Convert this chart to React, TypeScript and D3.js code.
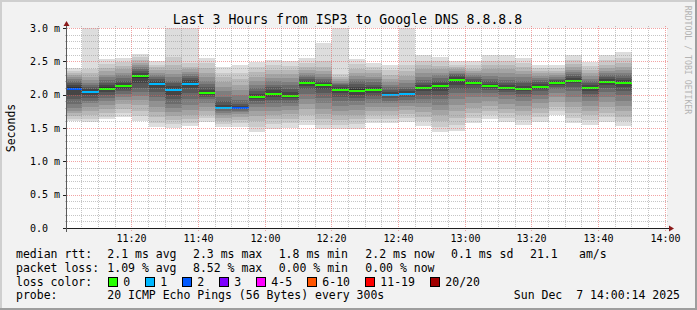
import React from 'react';
import * as d3 from 'd3';

// ---------- data ----------
const binStarts = [
  '11:00', '11:05', '11:10', '11:15', '11:20', '11:25', '11:30', '11:35', '11:40', '11:45',
  '11:50', '11:55', '12:00', '12:05', '12:10', '12:15', '12:20', '12:25', '12:30', '12:35',
  '12:40', '12:45', '12:50', '12:55', '13:00', '13:05', '13:10', '13:15', '13:20', '13:25',
  '13:30', '13:35', '13:40', '13:45',
];

const medianMs = [
  2.09, 2.04, 2.09, 2.135, 2.275, 2.165, 2.07, 2.165, 2.03, 1.805,
  1.80, 1.97, 2.015, 1.985, 2.18, 2.14, 2.075, 2.06, 2.075, 2.0,
  2.015, 2.1, 2.125, 2.22, 2.18, 2.125, 2.1, 2.09, 2.12, 2.175,
  2.21, 2.1, 2.19, 2.175,
];

const lostPings = [
  2, 1, 0, 0, 0, 1, 1, 1, 0, 1,
  2, 0, 0, 0, 0, 0, 0, 0, 0, 1,
  1, 0, 0, 0, 0, 0, 0, 0, 0, 0,
  0, 0, 0, 0,
];

// 20 sorted ping round-trip times per 5 minute step (ms)
const pingsMs = [
  [1.60, 1.64, 1.68, 1.72, 1.76, 1.80, 1.86, 1.93, 2.00, 2.07, 2.11, 2.14, 2.17, 2.20, 2.23, 2.26, 2.29, 2.32, 2.36, 2.40],
  [1.59, 1.63, 1.70, 1.76, 1.82, 1.87, 1.91, 1.95, 1.99, 2.02, 2.06, 2.09, 2.12, 2.15, 2.18, 2.22, 2.27, 2.33, 2.38, 3.15],
  [1.63, 1.67, 1.72, 1.78, 1.84, 1.90, 1.95, 2.00, 2.04, 2.07, 2.11, 2.14, 2.18, 2.22, 2.26, 2.30, 2.35, 2.40, 2.46, 2.53],
  [1.66, 1.72, 1.79, 1.86, 1.92, 1.97, 2.01, 2.05, 2.09, 2.12, 2.15, 2.18, 2.21, 2.25, 2.29, 2.33, 2.38, 2.43, 2.49, 2.55],
  [1.60, 1.68, 1.76, 1.84, 1.92, 1.98, 2.04, 2.10, 2.18, 2.25, 2.30, 2.33, 2.36, 2.39, 2.42, 2.45, 2.48, 2.52, 2.56, 2.61],
  [1.51, 1.58, 1.66, 1.74, 1.82, 1.90, 1.97, 2.04, 2.10, 2.15, 2.18, 2.21, 2.24, 2.27, 2.30, 2.33, 2.37, 2.41, 2.45, 2.50],
  [1.50, 1.56, 1.62, 1.68, 1.74, 1.80, 1.86, 1.93, 2.00, 2.05, 2.09, 2.13, 2.17, 2.21, 2.26, 2.31, 2.37, 2.45, 2.56, 3.15],
  [1.53, 1.58, 1.64, 1.70, 1.77, 1.85, 1.93, 2.02, 2.10, 2.15, 2.18, 2.22, 2.25, 2.28, 2.31, 2.34, 2.38, 2.42, 2.47, 3.15],
  [1.59, 1.65, 1.70, 1.76, 1.82, 1.88, 1.93, 1.97, 2.00, 2.02, 2.04, 2.07, 2.11, 2.16, 2.21, 2.27, 2.33, 2.40, 2.47, 2.55],
  [1.51, 1.56, 1.61, 1.65, 1.69, 1.72, 1.75, 1.78, 1.80, 1.80, 1.81, 1.84, 1.90, 1.97, 2.05, 2.12, 2.19, 2.26, 2.33, 2.41],
  [1.51, 1.57, 1.62, 1.67, 1.71, 1.74, 1.76, 1.78, 1.79, 1.80, 1.81, 1.83, 1.86, 1.92, 1.99, 2.07, 2.15, 2.24, 2.33, 2.44],
  [1.44, 1.52, 1.60, 1.68, 1.75, 1.81, 1.86, 1.90, 1.93, 1.96, 1.98, 2.01, 2.05, 2.10, 2.15, 2.21, 2.27, 2.34, 2.41, 2.49],
  [1.48, 1.56, 1.63, 1.70, 1.76, 1.82, 1.87, 1.92, 1.97, 2.00, 2.03, 2.07, 2.11, 2.15, 2.20, 2.25, 2.31, 2.37, 2.44, 2.52],
  [1.50, 1.57, 1.64, 1.71, 1.77, 1.83, 1.88, 1.92, 1.95, 1.97, 2.00, 2.04, 2.09, 2.14, 2.19, 2.25, 2.31, 2.37, 2.43, 2.50],
  [1.55, 1.62, 1.70, 1.78, 1.86, 1.94, 2.01, 2.08, 2.13, 2.17, 2.19, 2.21, 2.24, 2.27, 2.30, 2.33, 2.37, 2.42, 2.48, 2.55],
  [1.48, 1.55, 1.63, 1.71, 1.79, 1.87, 1.95, 2.03, 2.09, 2.13, 2.15, 2.18, 2.21, 2.24, 2.27, 2.31, 2.35, 2.41, 2.50, 2.78],
  [1.48, 1.55, 1.62, 1.69, 1.76, 1.83, 1.90, 1.96, 2.02, 2.06, 2.09, 2.12, 2.14, 2.16, 2.18, 2.21, 2.24, 2.27, 2.31, 3.15],
  [1.49, 1.56, 1.63, 1.70, 1.77, 1.84, 1.90, 1.95, 2.00, 2.04, 2.08, 2.12, 2.16, 2.20, 2.24, 2.28, 2.33, 2.39, 2.46, 2.53],
  [1.58, 1.64, 1.70, 1.76, 1.82, 1.88, 1.93, 1.98, 2.02, 2.06, 2.09, 2.12, 2.15, 2.19, 2.23, 2.27, 2.32, 2.37, 2.42, 2.48],
  [1.58, 1.64, 1.70, 1.76, 1.82, 1.87, 1.91, 1.95, 1.98, 2.00, 2.01, 2.04, 2.07, 2.11, 2.15, 2.19, 2.24, 2.30, 2.37, 2.45],
  [1.59, 1.65, 1.71, 1.77, 1.83, 1.88, 1.92, 1.96, 1.99, 2.01, 2.02, 2.05, 2.08, 2.12, 2.17, 2.22, 2.28, 2.35, 2.45, 3.15],
  [1.53, 1.60, 1.67, 1.74, 1.81, 1.88, 1.94, 2.00, 2.05, 2.09, 2.11, 2.14, 2.18, 2.22, 2.27, 2.32, 2.38, 2.44, 2.51, 2.59],
  [1.44, 1.52, 1.60, 1.69, 1.77, 1.85, 1.93, 2.00, 2.06, 2.11, 2.14, 2.17, 2.21, 2.25, 2.29, 2.33, 2.38, 2.43, 2.50, 2.57],
  [1.45, 1.55, 1.65, 1.75, 1.85, 1.94, 2.02, 2.09, 2.15, 2.20, 2.24, 2.27, 2.29, 2.31, 2.33, 2.35, 2.38, 2.41, 2.45, 2.50],
  [1.58, 1.65, 1.72, 1.80, 1.88, 1.96, 2.03, 2.09, 2.14, 2.17, 2.19, 2.21, 2.23, 2.26, 2.29, 2.32, 2.35, 2.39, 2.44, 2.50],
  [1.63, 1.69, 1.76, 1.83, 1.90, 1.96, 2.02, 2.07, 2.10, 2.12, 2.13, 2.16, 2.20, 2.24, 2.28, 2.33, 2.38, 2.44, 2.51, 2.59],
  [1.59, 1.65, 1.72, 1.79, 1.86, 1.93, 1.99, 2.04, 2.07, 2.09, 2.11, 2.14, 2.18, 2.22, 2.27, 2.32, 2.38, 2.44, 2.51, 2.59],
  [1.55, 1.62, 1.69, 1.76, 1.83, 1.90, 1.96, 2.01, 2.05, 2.08, 2.10, 2.13, 2.17, 2.21, 2.26, 2.31, 2.36, 2.42, 2.48, 2.55],
  [1.59, 1.66, 1.73, 1.80, 1.87, 1.94, 2.00, 2.05, 2.09, 2.11, 2.13, 2.16, 2.19, 2.22, 2.25, 2.28, 2.32, 2.36, 2.40, 2.45],
  [1.69, 1.75, 1.82, 1.89, 1.96, 2.03, 2.08, 2.12, 2.15, 2.17, 2.18, 2.20, 2.22, 2.24, 2.26, 2.29, 2.32, 2.36, 2.40, 2.45],
  [1.57, 1.65, 1.73, 1.81, 1.89, 1.97, 2.05, 2.12, 2.17, 2.20, 2.22, 2.25, 2.28, 2.31, 2.34, 2.37, 2.41, 2.46, 2.52, 2.59],
  [1.55, 1.62, 1.69, 1.76, 1.83, 1.90, 1.96, 2.01, 2.05, 2.09, 2.11, 2.14, 2.17, 2.20, 2.24, 2.28, 2.32, 2.37, 2.43, 2.49],
  [1.59, 1.66, 1.73, 1.81, 1.89, 1.97, 2.04, 2.10, 2.15, 2.18, 2.20, 2.23, 2.26, 2.29, 2.32, 2.36, 2.40, 2.45, 2.52, 2.59],
  [1.53, 1.60, 1.67, 1.75, 1.83, 1.91, 1.99, 2.06, 2.12, 2.16, 2.19, 2.22, 2.25, 2.29, 2.33, 2.37, 2.42, 2.48, 2.55, 2.64],
];

const yTickValues = [0, 0.5, 1.0, 1.5, 2.0, 2.5, 3.0];
const yTickLabels = ['0.0', '0.5 m', '1.0 m', '1.5 m', '2.0 m', '2.5 m', '3.0 m'];
const xMajorTicks = ['11:20', '11:40', '12:00', '12:20', '12:40', '13:00', '13:20', '13:40', '14:00'];
const xMinorTicks = [
  '11:05', '11:10', '11:15', '11:25', '11:30', '11:35', '11:45', '11:50', '11:55',
  '12:05', '12:10', '12:15', '12:25', '12:30', '12:35', '12:45', '12:50', '12:55',
  '13:05', '13:10', '13:15', '13:25', '13:30', '13:35', '13:45', '13:50', '13:55',
];
const yMinorTicks = [0.1, 0.2, 0.3, 0.4, 0.6, 0.7, 0.8, 0.9, 1.1, 1.2, 1.3, 1.4, 1.6, 1.7, 1.8, 1.9, 2.1, 2.2, 2.3, 2.4, 2.6, 2.7, 2.8, 2.9];

const lossLabels = ['0', '1', '2', '3', '4-5', '6-10', '11-19', '20/20'];
const lossColors = ['#26ff00', '#00b8ff', '#0059ff', '#7e00ff', '#ff00ff', '#ff5500', '#ff0000', '#a10000'];
const lossUpper = [0, 1, 2, 3, 5, 10, 19, 20];

const title = 'Last 3 Hours from ISP3 to Google DNS 8.8.8.8';
const statsRtt = ['2.1 ms avg', '2.3 ms max', '1.8 ms min', '2.2 ms now', '0.1 ms sd', '21.1', 'am/s'];
const statsLoss = ['1.09 % avg', '8.52 % max', '0.00 % min', '0.00 % now'];
const probeText = '20 ICMP Echo Pings (56 Bytes) every 300s';
const stampText = 'Sun Dec\u00a0\u00a07 14:00:14 2025';

// ---------- layout ----------
const W = 697;
const H = 310;
const X0 = 67;
const X1 = 667;
const Y0 = 228;
const Y1 = 28;
const MONO = '"DejaVu Sans Mono", "Liberation Mono", monospace';
const rttX = [107.3, 193, 278.7, 365.3, 451, 530, 579];
const lossX = [107.3, 193, 278.7, 365.3];
const boxX = [108.5, 145.5, 182.5, 219.5, 256.5, 307.5, 365.5, 430.5];

const toTime = (hm: string) => {
  const [h, m] = hm.split(':').map(Number);
  return new Date(Date.UTC(2025, 11, 7, h, m, 0));
};

export default function App() {
  const x = d3
    .scaleUtc()
    .domain([new Date(Date.UTC(2025, 11, 7, 11, 0, 33)), new Date(Date.UTC(2025, 11, 7, 14, 0, 33))])
    .range([X0, X1]);
  const y = d3.scaleLinear().domain([0, 3]).range([Y0, Y1]);

  const gridX = (t: string) => Math.floor(x(toTime(t))) + 0.5;
  const gridY = (v: number) => Math.round(y(v)) + 0.5;

  const smokeShade = (k: number) => {
    const c = Math.floor((190 / 10) * (10 - (k + 1))) + 50;
    return d3.rgb(c, c, c).formatHex();
  };
  const lossColor = (n: number) => lossColors[lossUpper.findIndex((u) => n <= u)];

  const bars = binStarts.map((s, i) => {
    const t0 = toTime(s);
    const t1 = d3.utcMinute.offset(t0, 5);
    const xa = Math.max(X0, Math.round(x(t0)));
    const xb = Math.round(x(t1));
    return { xa, xb, pings: pingsMs[i], med: medianMs[i], loss: lostPings[i] };
  });

  const minorGrid = 'rgba(150,150,150,0.55)';
  const majorGrid = 'rgba(230,90,90,0.55)';

  return (
    <svg
      width={W}
      height={H}
      style={{ position: 'absolute', left: 0, top: 0, display: 'block' }}
      fontFamily={MONO}
    >
      <defs>
        <clipPath id="plotClip">
          <rect x={X0} y={Y1} width={X1 - X0} height={Y0 - Y1} />
        </clipPath>
      </defs>
      <rect x={0} y={0} width={W} height={H} fill="#f2f2f2" />
      {/* 3d border */}
      <rect x={0} y={0} width={W} height={2} fill="#cfcfcf" />
      <rect x={0} y={0} width={2} height={H} fill="#cfcfcf" />
      <rect x={W - 2} y={0} width={2} height={H} fill="#9e9e9e" />
      <rect x={0} y={H - 2} width={W} height={2} fill="#9e9e9e" />

      <rect x={X0} y={Y1} width={X1 - X0} height={Y0 - Y1} fill="#ffffff" />

      <g clipPath="url(#plotClip)" shapeRendering="crispEdges">
        {bars.map((b, i) => (
          <g key={i}>
            {d3.range(10).map((k) => {
              const lo = b.pings[k];
              const hi = b.pings[19 - k];
              const ya = Math.round(y(hi));
              const yb = Math.round(y(lo));
              return (
                <rect key={k} x={b.xa} width={b.xb - b.xa} y={ya} height={Math.max(0, yb - ya)} fill={smokeShade(k)} />
              );
            })}
          </g>
        ))}
        {bars.map((b, i) => {
          const ym = Math.round(y(b.med));
          return <rect key={'m' + i} x={b.xa} width={b.xb - b.xa} y={ym - 1} height={2} fill={lossColor(b.loss)} />;
        })}
      </g>

      {/* grid */}
      <g shapeRendering="crispEdges" strokeWidth={1}>
        {yMinorTicks.map((v) => (
          <line key={'ym' + v} x1={X0 - 2} x2={X1 + 2} y1={gridY(v)} y2={gridY(v)} stroke={minorGrid} strokeDasharray="1,1" />
        ))}
        {xMinorTicks.map((t) => (
          <line key={'xm' + t} x1={gridX(t)} x2={gridX(t)} y1={Y1 - 2} y2={Y0 + 2} stroke={minorGrid} strokeDasharray="1,1" />
        ))}
        {yTickValues.map((v) => (
          <line key={'yM' + v} x1={X0 - 2} x2={X1 + 2} y1={gridY(v)} y2={gridY(v)} stroke={majorGrid} strokeDasharray="1,1" />
        ))}
        {xMajorTicks.map((t) => (
          <line key={'xM' + t} x1={gridX(t)} x2={gridX(t)} y1={Y1 - 2} y2={Y0 + 3} stroke={majorGrid} strokeDasharray="1,1" />
        ))}
      </g>

      {/* axes */}
      <g shapeRendering="crispEdges">
        <line x1={X0 - 4} x2={X1 + 4} y1={Y0 + 0.5} y2={Y0 + 0.5} stroke="#1f1f1f" />
        <line x1={X0 - 0.5} x2={X0 - 0.5} y1={Y0 + 4} y2={Y1 - 4} stroke="#5a5a5a" />
        {yTickValues.map((v) => (
          <line key={'yt' + v} x1={X0 - 4} x2={X0 - 1} y1={gridY(v)} y2={gridY(v)} stroke="#1f1f1f" />
        ))}
      </g>
      <path d={`M${X1 + 2},${Y0 - 2.5} L${X1 + 2},${Y0 + 3.5} L${X1 + 7},${Y0 + 0.5} Z`} fill="#8b1a1a" />
      <path d={`M${X0 - 3.5},${Y1 - 2} L${X0 + 2.5},${Y1 - 2} L${X0 - 0.5},${Y1 - 7} Z`} fill="#8b1a1a" />

      {/* y labels */}
      {yTickValues.map((v, i) => (
        <text key={'yl' + v} x={30} y={y(v) + 3.8} fontSize={10} fill="#000">
          {yTickLabels[i]}
        </text>
      ))}
      {/* x labels */}
      {xMajorTicks.map((t) => (
        <text key={'xl' + t} x={gridX(t)} y={242} fontSize={10} textAnchor="middle" fill="#000">
          {t}
        </text>
      ))}

      {/* title */}
      <text x={347.5} y={24} fontSize={13.2} textAnchor="middle" fill="#000">
        {title}
      </text>
      {/* vertical label */}
      <text transform={`translate(14.5,${(Y0 + Y1) / 2}) rotate(-90)`} fontSize={11.5} textAnchor="middle" fill="#000">
        Seconds
      </text>
      {/* watermark */}
      <text transform="translate(685,60) rotate(90)" fontSize={8.2} textAnchor="middle" fill="#b4b4b4">
        RRDTOOL / TOBI OETIKER
      </text>

      {/* legend */}
      <g fontSize={11.5} fill="#000">
        <text x={16} y={258}>median rtt:</text>
        {statsRtt.map((s, i) => (
          <text key={'r' + i} x={rttX[i]} y={258}>{s}</text>
        ))}
        <text x={16} y={271.8}>packet loss:</text>
        {statsLoss.map((s, i) => (
          <text key={'l' + i} x={lossX[i]} y={271.8}>{s}</text>
        ))}
        <text x={16} y={285.5}>loss color:</text>
        {lossLabels.map((s, i) => (
          <g key={'c' + i}>
            <rect x={boxX[i]} y={277.5} width={9} height={9} fill={lossColors[i]} stroke="#000" strokeWidth={1} shapeRendering="crispEdges" />
            <text x={boxX[i] + 14.8} y={285.5}>{s}</text>
          </g>
        ))}
        <text x={16} y={299.3}>probe:</text>
        <text x={107.3} y={299.3}>{probeText}</text>
        <text x={680} y={299.3} textAnchor="end">{stampText}</text>
      </g>
    </svg>
  );
}
